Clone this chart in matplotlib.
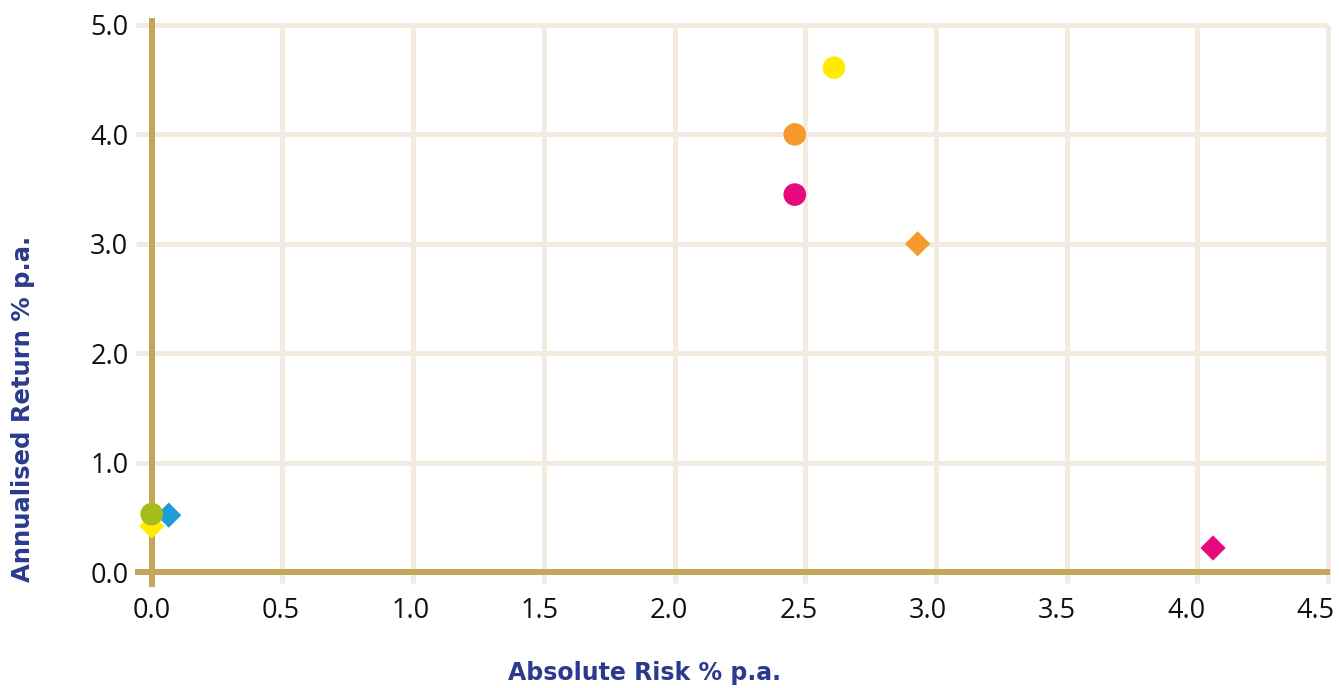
import matplotlib
matplotlib.use("Agg")
import matplotlib.pyplot as plt
from matplotlib.transforms import ScaledTranslation

# Data (risk, return)
circle_x = [2.61, 2.46, 2.46, 0.0]
circle_y = [4.61, 4.00, 3.45, 0.53]
circle_colors = ["#FFEB00", "#F59B2D", "#E6097F", "#A4BD1A"]

diamond_x = [2.93, 4.06, 0.065, 0.0]
diamond_y = [3.00, 0.22, 0.52, 0.42]
diamond_colors = ["#F59B2D", "#E6097F", "#1F9BD7", "#FFEB00"]

xticks = [0.0, 0.5, 1.0, 1.5, 2.0, 2.5, 3.0, 3.5, 4.0, 4.5]
yticks = [0.0, 1.0, 2.0, 3.0, 4.0, 5.0]
xlabel = "Absolute Risk % p.a."
ylabel = "Annualised Return % p.a."

GOLD = "#C4A55A"
GRID = "#F3EBDF"
NAVY = "#2B3A8C"

plt.rcParams['font.family'] = ['Open Sans', 'DejaVu Sans']

fig = plt.figure(figsize=(13.39, 6.88), dpi=100)
ax = fig.add_axes([0.1016, 0.1526, 0.8902, 0.8111])
ax.set_xlim(-0.06, 4.5)
ax.set_ylim(-0.1, 5.0)

for s in ax.spines.values():
    s.set_visible(False)

for xv in xticks[1:]:
    ax.plot([xv, xv], [-0.1, 5.0], color=GRID, lw=3.6, zorder=1, clip_on=False, solid_capstyle='butt')
for yv in yticks[1:]:
    ax.plot([-0.06, 4.5], [yv, yv], color=GRID, lw=3.6, zorder=1, clip_on=False, solid_capstyle='butt')

ax.plot([0, 0], [-0.137, 5.064], color=GOLD, lw=4.3, zorder=2, clip_on=False, solid_capstyle='butt')
ax.plot([-0.065, 4.508], [0, 0], color=GOLD, lw=4.3, zorder=2, clip_on=False, solid_capstyle='butt')

ax.scatter(diamond_x, diamond_y, marker='D', s=165, c=diamond_colors, linewidths=0, zorder=3, clip_on=False)
ax.scatter(circle_x, circle_y, marker='o', s=265, c=circle_colors, linewidths=0, zorder=4, clip_on=False)

ax.set_xticks(xticks)
ax.set_xticklabels([f"{v:.1f}" for v in xticks])
ax.set_yticks(yticks)
ax.set_yticklabels([f"{v:.1f}" for v in yticks])
ax.tick_params(axis='both', length=0, labelsize=19.5, colors='#111111')
ax.tick_params(axis='x', pad=10)
ax.tick_params(axis='y', pad=5.5)

# the original tick labels drift slightly left of their gridlines
for v, tick in zip(xticks, ax.xaxis.get_major_ticks()):
    off = ScaledTranslation(-2.7 * v / 100.0, 0, fig.dpi_scale_trans)
    tick.label1.set_transform(tick.label1.get_transform() + off)

fig.text(0.4817, 0.0116, xlabel, ha='center', va='baseline', fontsize=17, fontweight='bold',
         color=NAVY, family='DejaVu Sans')
fig.text(0.0175, 0.405, ylabel, ha='center', va='center', rotation=90, fontsize=17.5, fontweight='bold',
         color=NAVY, family='DejaVu Sans')

fig.savefig("out.png", dpi=100)
